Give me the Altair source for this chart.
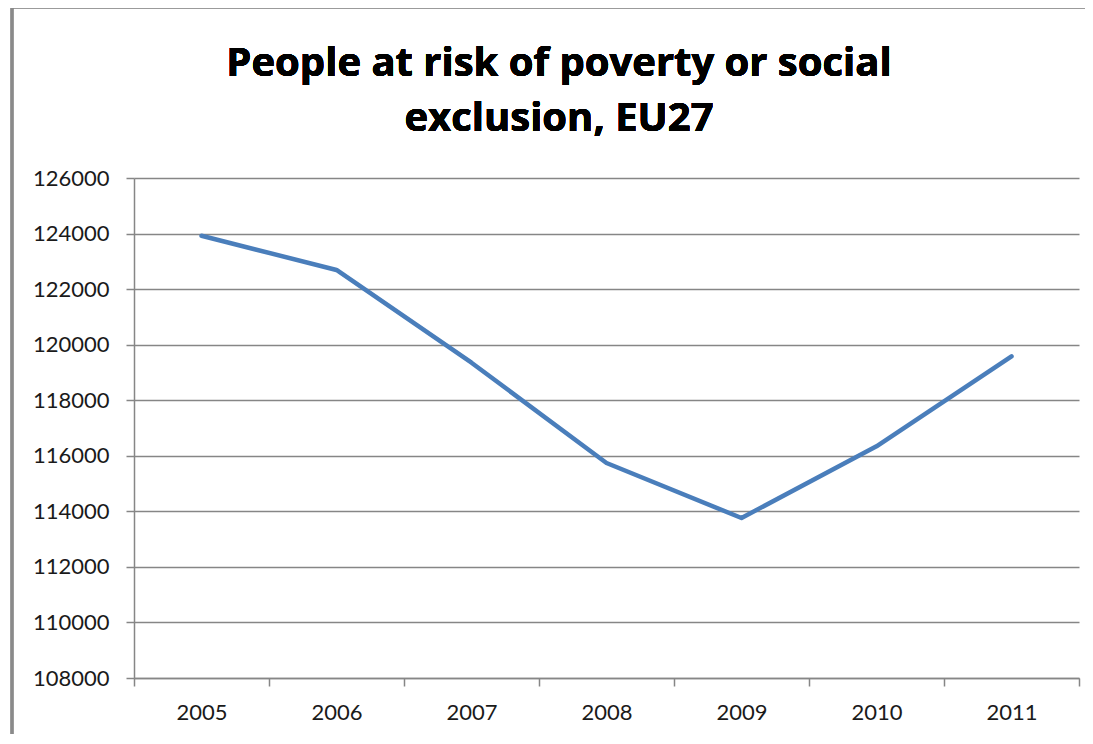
import altair as alt
import pandas as pd

years = ["2005", "2006", "2007", "2008", "2009", "2010", "2011"]
people = [123920, 122690, 119350, 115740, 113760, 116340, 119580]
title_lines = ["People at risk of poverty or social", "exclusion, EU27"]

df = pd.DataFrame({"year": years, "people": people})

GRAY = "#868686"
FONT = "Lato"
TFONT = "Open Sans"

line = alt.Chart(df).mark_line(color="#4A7EBB", strokeWidth=4.5, strokeCap="round", strokeJoin="round").encode(
    x=alt.X("year:O", sort=years,
            scale=alt.Scale(paddingInner=0, paddingOuter=0),
            axis=alt.Axis(title=None, labelAngle=0, tickBand="extent", tickSize=8,
                          tickColor=GRAY, tickWidth=1.5, domainColor=GRAY, domainWidth=1.5,
                          labelFontSize=22, labelFont=FONT, labelColor="#1a1a1a",
                          labelPadding=16, grid=False)),
    y=alt.Y("people:Q",
            scale=alt.Scale(domain=[108000, 126000], nice=False, zero=False),
            axis=alt.Axis(title=None, values=list(range(108000, 126001, 2000)), format="d",
                          tickSize=8, tickColor=GRAY, tickWidth=1.5, domainColor=GRAY, domainWidth=1.5,
                          gridColor=GRAY, gridWidth=1.5, grid=True,
                          labelFontSize=22, labelFont=FONT, labelColor="#1a1a1a",
                          labelPadding=17)),
)

frame = alt.Chart(df).mark_rect(fill=None, stroke="#8a8a8a", strokeWidth=2.5).encode(
    x=alt.value(-122), x2=alt.value(1100), y=alt.value(-171), y2=alt.value(700))

title1 = alt.Chart(df).mark_text(
    text=title_lines[0], font=TFONT, fontSize=40, fontWeight="bold", color="#000000",
    align="center", baseline="alphabetic").encode(x=alt.value(425), y=alt.value(-102))
title2 = alt.Chart(df).mark_text(
    text=title_lines[1], font=TFONT, fontSize=40, fontWeight="bold", color="#000000",
    align="center", baseline="alphabetic").encode(x=alt.value(425), y=alt.value(-47))

chart = alt.layer(frame, title1, title2, line).properties(
    width=945, height=500,
    autosize=alt.AutoSizeParams(type="none"),
    padding={"left": 126, "top": 170, "right": 6, "bottom": 56},
).configure_view(stroke=None)

chart.save("out.html", embed_options={"renderer": "svg", "actions": False})
